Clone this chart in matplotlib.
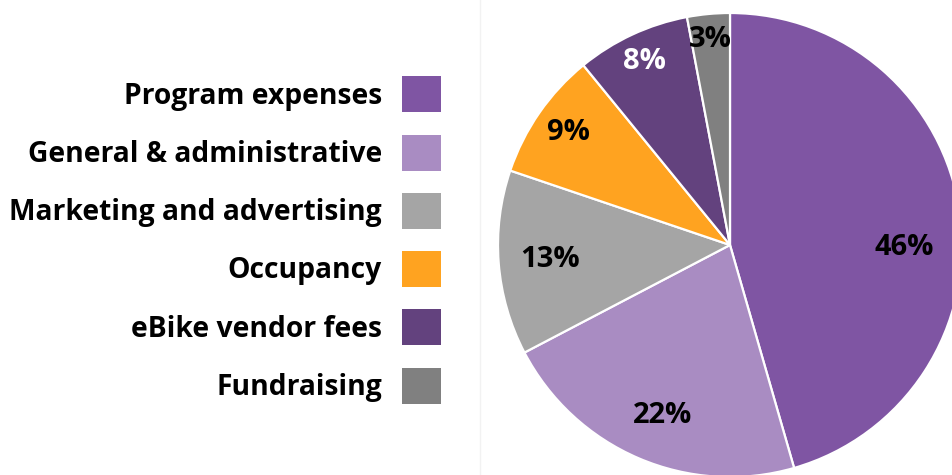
import matplotlib
matplotlib.use('Agg')
import matplotlib.pyplot as plt
from matplotlib.lines import Line2D
import numpy as np

categories = ["Program expenses", "General & administrative", "Marketing and advertising",
              "Occupancy", "eBike vendor fees", "Fundraising"]
shares = [46, 22, 13, 9, 8, 3]
labels = ["46%", "22%", "13%", "9%", "8%", "3%"]
colors = ["#7F55A3", "#A98CC2", "#A5A5A5", "#FFA320", "#63427E", "#808080"]
label_colors = ["black", "black", "black", "black", "white", "black"]

# label placement (radius fraction, angular nudge in degrees)
label_dist = [0.75, 0.79, 0.78, 0.85, 0.87, 0.89]
label_nudge = [-8.7, 1.5, 0, 0, 0, 0]

plt.rcParams['font.family'] = ['Open Sans', 'DejaVu Sans']

W, H = 953, 475
fig = plt.figure(figsize=(W / 100, H / 100), dpi=100)

# pie centred at (730, 245) px, radius 232 px
cx, cy, r = 730, 245, 232
ax = fig.add_axes([(cx - r) / W, (H - cy - r) / H, 2 * r / W, 2 * r / H])
wedges, _ = ax.pie(shares, colors=colors, startangle=90, counterclock=False,
                   radius=1, wedgeprops=dict(edgecolor='white', linewidth=1.6))
for w, lab, col, d, nd in zip(wedges, labels, label_colors, label_dist, label_nudge):
    ang = np.deg2rad((w.theta1 + w.theta2) / 2 + nd)
    ax.text(d * np.cos(ang), d * np.sin(ang), lab, ha='center', va='center',
            fontsize=21, fontweight='bold', color=col)
ax.set_xlim(-1, 1)
ax.set_ylim(-1, 1)
ax.set_aspect('equal')
ax.axis('off')

# faint divider
fig.add_artist(Line2D([480 / W, 480 / W], [0, 1], color='#F2F2F2', linewidth=1))

fs = 20.3
leg = fig.legend(wedges, categories, loc='center right',
                 bbox_to_anchor=(441 / W, 1 - 240 / H), frameon=False,
                 markerfirst=False, prop=dict(weight='bold', size=fs),
                 handlelength=1.384, handleheight=1.586, handletextpad=0.71,
                 labelspacing=0.79, borderpad=0, borderaxespad=0)
for h in leg.legend_handles:
    h.set_edgecolor('none')

fig.savefig('out.png', dpi=100)
